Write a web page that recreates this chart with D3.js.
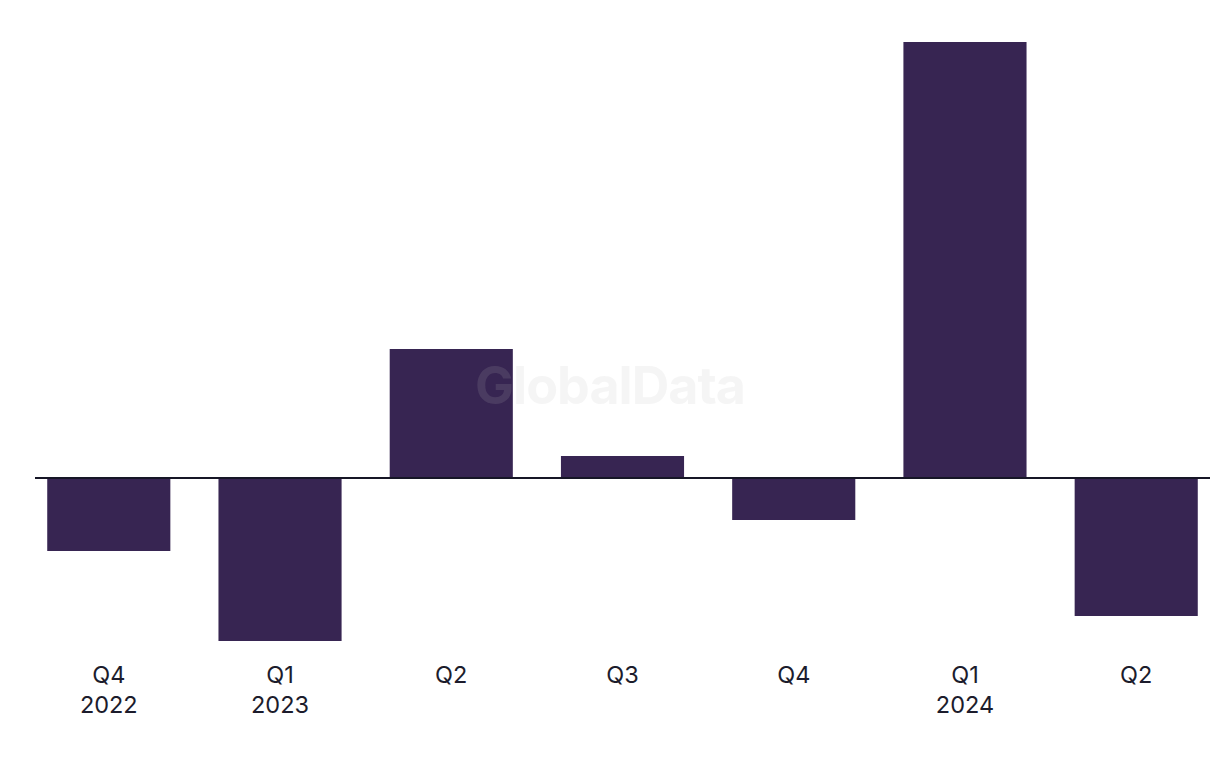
<!DOCTYPE html>
<html><head><meta charset="utf-8">
<script src="https://cdn.jsdelivr.net/npm/d3@7"></script>
<style>html,body{margin:0;padding:0;background:#fff;}svg{display:block;}</style>
</head><body>
<svg id="chart" width="1220" height="768"></svg>
<script>
const quarters = ["Q4", "Q1", "Q2", "Q3", "Q4", "Q1", "Q2"];
const years = ["2022", "2023", "", "", "", "2024", ""];
const values = [-7.3, -16.3, 12.9, 2.2, -4.2, 43.6, -13.8];

const svg = d3.select("#chart");
const keys = quarters.map((q, i) => i);
const x = d3.scaleBand().domain(keys).range([23, 1222]).paddingInner(0.281).paddingOuter(0.1415);
const y = d3.scaleLinear().domain([-16.3, 43.6]).range([641, 42]);

svg.append("g").selectAll("rect").data(values).join("rect")
  .attr("x", (d, i) => x(i))
  .attr("width", x.bandwidth())
  .attr("y", d => y(Math.max(0, d)))
  .attr("height", d => Math.abs(y(d) - y(0)))
  .attr("fill", "#372552");

svg.append("line")
  .attr("x1", 35).attr("x2", 1210)
  .attr("y1", y(0)).attr("y2", y(0))
  .attr("stroke", "#161626").attr("stroke-width", 2);

const lab = svg.append("g").attr("font-family", "Inter, 'Liberation Sans', sans-serif")
  .attr("font-size", 23.5).attr("fill", "#1c1c2c").attr("text-anchor", "middle");
lab.selectAll("text.q").data(quarters).join("text").attr("class", "q")
  .attr("x", (d, i) => x(i) + x.bandwidth() / 2).attr("y", 683).text(d => d);
lab.selectAll("text.y").data(years).join("text").attr("class", "y")
  .attr("x", (d, i) => x(i) + x.bandwidth() / 2).attr("y", 713).text(d => d);

svg.append("text").attr("x", 610).attr("y", 404).attr("text-anchor", "middle")
  .attr("font-family", "Inter, 'Liberation Sans', sans-serif").attr("font-weight", 700)
  .attr("font-size", 52).attr("fill", "#bababa").attr("fill-opacity", 0.15)
  .attr("letter-spacing", -1).text("GlobalData");
</script>
</body></html>
